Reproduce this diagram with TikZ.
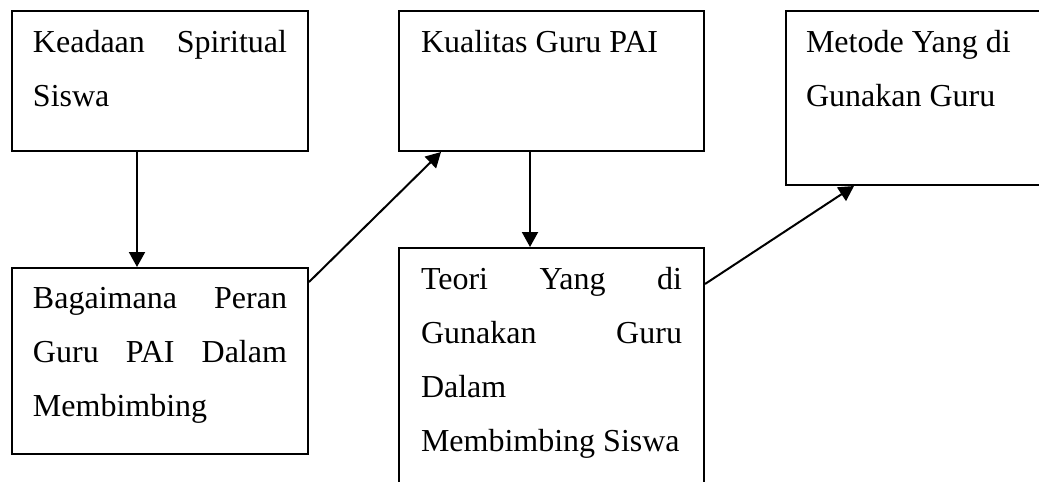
\documentclass[tikz,border=0pt]{standalone}
\usepackage{fontspec}
\setmainfont{Liberation Serif}
\usetikzlibrary{arrows.meta}
\newcommand{\jline}[1]{\makebox[\linewidth][s]{#1}}
\newcommand{\blocktext}[3]{\parbox[c][#2][t]{#1}{\raggedright
    \fontsize{12.8pt}{21.6pt}\selectfont #3}}
\tikzset{
    flow diagram/.style = {x=0.4pt, y=-0.4pt,
                           >={Triangle[length=6pt, width=6.4pt]}},
    block/.style        = {draw, line width=0.8pt,
                           inner xsep=8.4pt, inner ysep=7.6pt},
    wblock/.style       = {block, inner xsep=8.8pt},
    line/.style         = {line width=0.8pt}
}

\begin{document}
\begin{tikzpicture}[flow diagram]
\path[use as bounding box, clip] (0,0) rectangle (1039,481);

% ================= Left column =================
\node[block] (keadaan) at (160, 81)
    {\blocktext{101.6pt}{40.8pt}{\jline{Keadaan Spiritual}\\ Siswa}};
\node[block] (peran) at (160, 361)
    {\blocktext{101.6pt}{59.2pt}{\jline{Bagaimana Peran}\\
     \jline{Guru PAI Dalam}\\ Membimbing}};

% ================= Middle column =================
\node[wblock] (kualitas) at (551.5, 81)
    {\blocktext{104.4pt}{40.8pt}{Kualitas Guru PAI}};
\node[wblock] (teori) at (551.5, 369)
    {\blocktext{104.4pt}{81.6pt}{\jline{Teori Yang di}\\
     \jline{Gunakan Guru}\\ Dalam\\ \mbox{Membimbing Siswa}}};

% ================= Right column =================
\node[block, inner xsep=8pt] (metode) at (916, 98)
    {\blocktext{88pt}{54.4pt}{\mbox{Metode Yang di}\\ Gunakan Guru}};

% ================= Connectors =================
\draw[->, line] ([xshift=-9.2pt]keadaan.south) -- ([xshift=-9.2pt]peran.north);
\draw[->, line] ([yshift=-6pt]peran.north east)
    -- ([xshift=17.2pt]kualitas.south west);
\draw[->, line] ([xshift=-8.6pt]kualitas.south) -- ([xshift=-8.6pt]teori.north);
\draw[->, line] ([yshift=-14.8pt]teori.north east)
    -- ([xshift=27.6pt]metode.south west);

\end{tikzpicture}
\end{document}
